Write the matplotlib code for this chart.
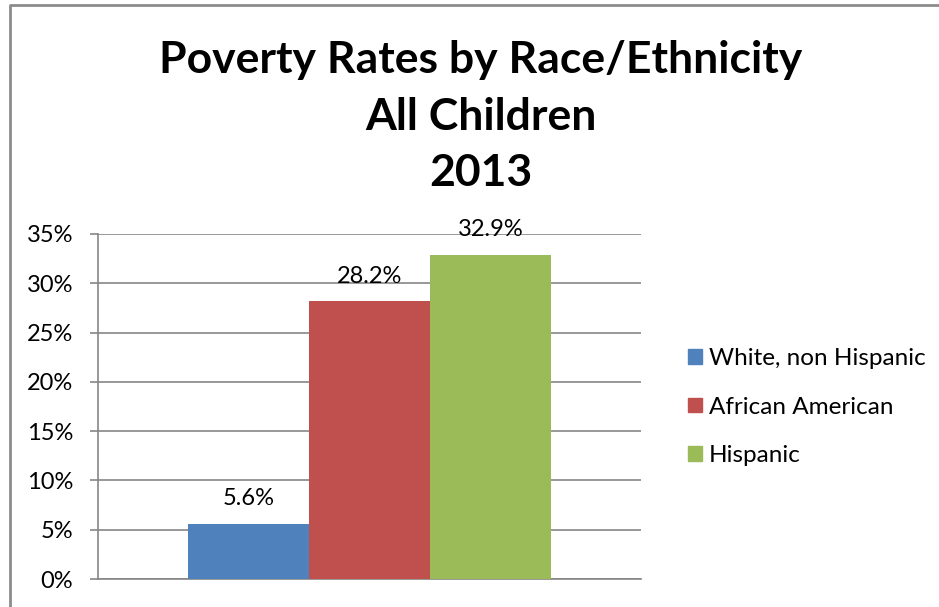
import matplotlib
matplotlib.use("Agg")
import matplotlib.pyplot as plt
from matplotlib.lines import Line2D
from matplotlib.ticker import FuncFormatter

plt.rcParams['font.family'] = ['Lato', 'DejaVu Sans']

# data
groups = ["White, non Hispanic", "African American", "Hispanic"]
rates = [5.6, 28.2, 32.9]
colors = ["#4F81BD", "#C0504D", "#9BBB59"]
yticks = [0, 5, 10, 15, 20, 25, 30, 35]

W, H = 939, 607
fig = plt.figure(figsize=(W / 100, H / 100), dpi=100)
ax = fig.add_axes([98 / W, 1 - 579 / H, 543 / W, 345 / H])

xs = [-1, 0, 1]
ax.bar(xs, rates, width=1.0, color=colors, zorder=3)
for x, r in zip(xs, rates):
    ax.annotate(f"{r:.1f}%", (x, r), xytext=(0, 18), textcoords="offset points",
                ha="center", va="center", fontsize=17, color="black", zorder=4)

ax.set_xlim(-543 / 121 / 2, 543 / 121 / 2)
ax.set_ylim(0, 35)
ax.set_yticks(yticks)
ax.yaxis.set_major_formatter(FuncFormatter(lambda v, p: f"{v:.0f}%"))
ax.grid(axis="y", color="#868686", linewidth=1.2, zorder=0)
ax.set_xticks([])
ax.tick_params(axis="y", length=6, width=1.2, color="#868686", pad=12, labelsize=17)
for s in ["top", "right"]:
    ax.spines[s].set_visible(False)
for s in ["left", "bottom"]:
    ax.spines[s].set_color("#868686")
    ax.spines[s].set_linewidth(1.2)

handles = [plt.Rectangle((0, 0), 1, 1, color=c) for c in colors]
fig.legend(handles, groups, loc="center left", bbox_to_anchor=(676 / W, 1 - 407 / H),
           frameon=False, fontsize=17.5, handlelength=0.55, handleheight=0.55,
           handletextpad=0.3, labelspacing=1.13, borderpad=0)

fig.text(481 / W, 1 - 117 / H, "Poverty Rates by Race/Ethnicity\nAll Children\n2013",
         ha="center", va="center", fontsize=32, fontweight="bold", linespacing=1.5)

# outer chart border
fig.add_artist(Line2D([9.5 / W, 9.5 / W, 1], [0, 1 - 4.5 / H, 1 - 4.5 / H],
                      transform=fig.transFigure, color="#8C8C8C", linewidth=2))

fig.savefig("out.png", dpi=100)
